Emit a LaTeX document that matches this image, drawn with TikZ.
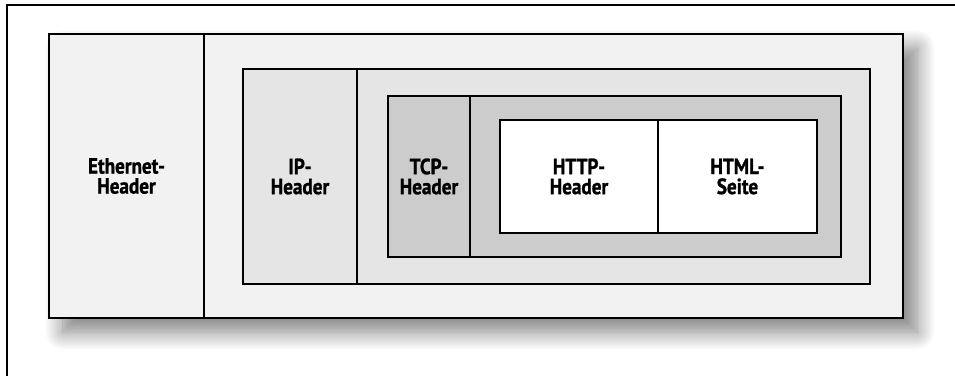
\documentclass[tikz,border=0pt]{standalone}
\usepackage{fontspec}
\setmainfont{PT Sans}[FakeStretch=0.87,BoldFeatures={FakeBold=1.2}]
\usetikzlibrary{shadows.blur}
\newdimen\px \px=0.5pt
\definecolor{ethgray}{HTML}{F2F2F2}
\definecolor{ipgray}{HTML}{E5E5E5}
\definecolor{tcpgray}{HTML}{CCCCCC}
\begin{document}
\begin{tikzpicture}
[x=0.5pt,y=-0.5pt,
  cell/.style={rectangle,draw,line width=1pt,inner sep=0pt,align=center,
    font=\bfseries\fontsize{11}{10}\selectfont},
  frameline/.style={line width=1.25pt}]
\useasboundingbox (0,0) rectangle (955,376);
% page frame, open at right and bottom
\coordinate (ftr) at (955,5);
\coordinate (ftl) at (7,5);
\coordinate (fbl) at (7,376);
\draw[frameline] (ftr) -- (ftl) -- (fbl);
% ethernet frame
\node (ethframe) at (476,176) [cell,fill=ethgray,minimum width=854*\px,minimum height=284*\px,
  blur shadow={shadow xshift=7pt,shadow yshift=-7pt,shadow blur radius=9pt,
    shadow blur steps=15,shadow opacity=50}] {};
\node (eth) at (126.5,176) [cell,fill=ethgray,minimum width=155*\px,minimum height=284*\px] {Ethernet-\\Header};
% ip packet
\node (ipframe) at (556.5,176.5) [cell,fill=ipgray,minimum width=627*\px,minimum height=215*\px] {};
\node (ip) at (300,176.5) [cell,fill=ipgray,minimum width=114*\px,minimum height=215*\px] {IP-\\Header};
% tcp segment
\node (tcpframe) at (614.5,176.5) [cell,fill=tcpgray,minimum width=453*\px,minimum height=161*\px] {};
\node (tcp) at (429,176.5) [cell,fill=tcpgray,minimum width=82*\px,minimum height=161*\px] {TCP-\\Header};
% http message
\node (http) at (579,176.5) [cell,fill=white,minimum width=158*\px,minimum height=113*\px] {HTTP-\\Header};
\node (html) at (737.5,176.5) [cell,fill=white,minimum width=159*\px,minimum height=113*\px] {HTML-\\Seite};
\end{tikzpicture}
\end{document}
